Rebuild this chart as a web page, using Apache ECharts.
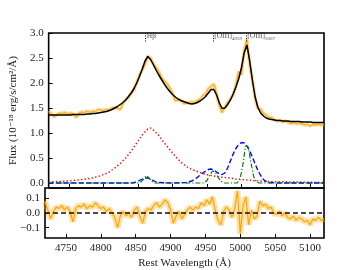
<!DOCTYPE html>
<html>
<head>
<meta charset="utf-8">
<script src="https://cdn.jsdelivr.net/npm/echarts@6/dist/echarts.min.js"></script>
<style>html,body{margin:0;padding:0;background:#fff}#c{width:360px;height:270px}</style>
</head>
<body>
<div id="c"></div>
<script>
// Wavelength grid (Å) for data, model and residuals
const wave = [4720,4724,4728,4732,4736,4740,4744,4748,4752,4756,4760,4764,4768,4772,4776,4780,4784,4788,4792,4796,
4800,4804,4808,4812,4816,4820,4824,4828,4832,4836,4840,4844,4848,4852,4856,4860,4864,4868,4872,4876,
4880,4884,4888,4892,4896,4900,4904,4908,4912,4916,4920,4924,4928,4932,4936,4940,4944,4948,4952,4956,
4960,4964,4968,4972,4976,4980,4984,4988,4992,4996,5000,5004,5008,5012,5016,5020,5024,5028,5032,5036,
5040,5044,5048,5052,5056,5060,5064,5068,5072,5076,5080,5084,5088,5092,5096,5100,5104,5108,5112,5116,5120];

// Observed flux (1e-18 erg/s/cm2/Å)
const fluxData = [1.44,1.38,1.32,1.37,1.40,1.39,1.41,1.38,1.40,1.38,1.31,1.40,1.42,1.41,1.44,1.41,1.44,1.43,1.47,1.46,
1.45,1.47,1.46,1.50,1.50,1.50,1.47,1.59,1.67,1.71,1.80,1.86,2.02,2.17,2.26,2.37,2.54,2.50,2.39,2.31,
2.23,2.11,2.04,1.99,1.90,1.79,1.65,1.66,1.66,1.59,1.60,1.61,1.62,1.61,1.65,1.67,1.75,1.78,1.89,1.93,
1.98,1.78,1.55,1.41,1.51,1.61,1.68,1.75,1.95,2.23,2.16,2.65,2.87,2.37,2.07,1.68,1.49,1.48,1.39,1.36,
1.31,1.31,1.26,1.24,1.26,1.22,1.24,1.21,1.19,1.21,1.18,1.20,1.18,1.16,1.17,1.14,1.17,1.16,1.18,1.16,1.17];

// Total model
const fluxModel = [1.36,1.36,1.36,1.36,1.36,1.36,1.36,1.36,1.36,1.37,1.37,1.37,1.37,1.37,1.38,1.38,1.39,1.39,1.40,1.41,
1.42,1.43,1.45,1.47,1.50,1.53,1.57,1.61,1.66,1.73,1.80,1.89,2.00,2.13,2.28,2.44,2.53,2.47,2.37,2.26,
2.16,2.07,1.98,1.90,1.83,1.77,1.72,1.68,1.65,1.63,1.61,1.59,1.58,1.59,1.61,1.64,1.68,1.73,1.80,1.87,
1.87,1.76,1.60,1.49,1.50,1.57,1.66,1.78,1.92,2.08,2.30,2.60,2.76,2.45,2.05,1.72,1.51,1.40,1.34,1.30,
1.28,1.27,1.26,1.25,1.25,1.24,1.24,1.24,1.23,1.23,1.23,1.23,1.22,1.22,1.22,1.22,1.21,1.21,1.21,1.21,1.21];

// Residuals (data - model)
const residual = [0.08,0.02,-0.04,0.01,0.04,0.03,0.05,0.02,0.04,0.01,-0.06,0.03,0.05,0.04,0.06,0.03,0.05,0.04,0.07,0.05,
0.03,0.04,0.01,0.03,0.00,-0.03,-0.10,-0.02,0.01,-0.02,0.00,-0.03,0.02,0.04,-0.02,-0.07,0.01,0.03,0.02,0.05,
0.07,0.04,0.06,0.09,0.07,0.02,-0.07,-0.02,0.01,-0.04,-0.01,0.02,0.04,0.02,0.04,0.03,0.07,0.05,0.09,0.06,
0.11,0.02,-0.05,-0.08,0.01,0.04,0.02,-0.03,0.03,0.15,-0.14,0.05,0.11,-0.08,0.02,-0.04,-0.02,0.08,0.05,0.06,
0.03,0.04,0.00,-0.01,0.01,-0.02,0.00,-0.03,-0.04,-0.02,-0.05,-0.03,-0.04,-0.06,-0.05,-0.08,-0.04,-0.05,-0.03,-0.05,-0.04];

// Broad Hβ component (red dotted)
const redWave = [4720,4740,4760,4780,4792,4800,4808,4816,4824,4832,4840,4848,4856,4864,4868,4872,4880,4888,4896,4904,
4912,4920,4928,4936,4944,4952,4960,4968,4976,4984,4992,5000,5010,5020,5040,5060,5080,5100,5120];
const redFlux = [0.02,0.035,0.055,0.09,0.13,0.17,0.22,0.30,0.39,0.50,0.64,0.80,0.96,1.08,1.10,1.06,0.95,0.80,0.67,0.53,
0.42,0.33,0.27,0.23,0.19,0.16,0.14,0.12,0.11,0.10,0.08,0.07,0.06,0.045,0.03,0.025,0.02,0.015,0.01];

// Broad/wing components (blue dashed)
const blueWave = [4720,4840,4848,4852,4856,4860,4864,4868,4872,4876,4880,4900,4920,4928,4934,4940,4946,4952,4956,4960,
4964,4968,4972,4976,4980,4984,4988,4992,4996,5000,5004,5008,5012,5016,5020,5024,5028,5032,5036,5040,5050,5120];
const blueFlux = [0,0,0.02,0.05,0.08,0.10,0.10,0.08,0.05,0.02,0.01,0,0.01,0.04,0.09,0.16,0.22,0.27,0.28,0.26,
0.22,0.18,0.17,0.20,0.30,0.44,0.58,0.69,0.77,0.81,0.80,0.74,0.64,0.52,0.38,0.25,0.15,0.07,0.03,0.01,0,0];

// Narrow components (green dash-dot)
const greenWave = [4720,4850,4854,4858,4862,4866,4870,4874,4946,4950,4954,4958,4962,4966,4970,4974,4994,4998,5002,5006,
5008,5010,5014,5018,5022,5026,5120];
const greenFlux = [0,0,0.02,0.08,0.15,0.10,0.03,0,0,0.05,0.16,0.24,0.22,0.12,0.04,0,0,0.08,0.35,0.74,
0.78,0.72,0.40,0.12,0.02,0,0];

// Line identifications
const lineWave = [4861, 4959, 5007];
const lineName = ['H\u03b2', '[OIII]', '[OIII]'];
const lineSub = ['', '4959', '5007'];

// Tick values
const xTicks = [4750,4800,4850,4900,4950,5000,5050,5100];
const yTicksTop = [0,0.5,1.0,1.5,2.0,2.5,3.0];
const yTicksBot = [-0.1,0,0.1];

const FONT = '"Liberation Serif", "DejaVu Serif", serif';
const pair = (xs, ys) => xs.map((x, i) => [x, ys[i]]);
const fmt = v => (v < 0 ? '\u2212' : '') + Math.abs(v).toFixed(1);

const tickStyle = (vals) => ({show: true, inside: true, length: 4, customValues: vals, lineStyle: {color: '#000', width: 1}});
const hiddenLine = {show: false, onZero: false};

const chart = echarts.init(document.getElementById('c'), null, {renderer: 'canvas'});
chart.setOption({
  animation: false,
  backgroundColor: '#fff',
  grid: [
    {left: 45, top: 33, width: 279, height: 155, show: true, borderColor: '#000', borderWidth: 1.6, backgroundColor: 'transparent'},
    {left: 45, top: 188, width: 279, height: 52, show: true, borderColor: '#000', borderWidth: 1.6, backgroundColor: 'transparent'}
  ],
  xAxis: [
    {type: 'value', gridIndex: 0, min: 4720, max: 5120, axisLine: hiddenLine,
     axisTick: tickStyle(xTicks), axisLabel: {show: false}, splitLine: {show: false}},
    {type: 'value', gridIndex: 1, min: 4720, max: 5120, axisLine: hiddenLine,
     axisTick: tickStyle(xTicks),
     axisLabel: {customValues: xTicks, fontFamily: FONT, fontSize: 11, color: '#222', margin: 5, formatter: v => String(v)},
     splitLine: {show: false},
     name: 'Rest Wavelength (\u00c5)', nameLocation: 'middle', nameGap: 20,
     nameTextStyle: {fontFamily: FONT, fontSize: 11, color: '#222'}}
  ],
  yAxis: [
    {type: 'value', gridIndex: 0, min: -0.1, max: 3.0, axisLine: hiddenLine,
     axisTick: tickStyle(yTicksTop),
     axisLabel: {customValues: yTicksTop, fontFamily: FONT, fontSize: 11, color: '#222', margin: 5, formatter: fmt},
     splitLine: {show: false},
     name: 'Flux (10\u207b\u00b9\u2078 erg/s/cm\u00b2/\u00c5)', nameLocation: 'middle', nameGap: 24, nameRotate: 90,
     nameTextStyle: {fontFamily: FONT, fontSize: 11, color: '#222'}},
    {type: 'value', gridIndex: 1, min: -0.17, max: 0.17, axisLine: hiddenLine,
     axisTick: tickStyle(yTicksBot),
     axisLabel: {customValues: yTicksBot, fontFamily: FONT, fontSize: 11, color: '#222', margin: 5, formatter: fmt},
     splitLine: {show: false}}
  ],
  series: [
    // data error band
    {type: 'line', xAxisIndex: 0, yAxisIndex: 0, data: pair(wave, fluxData), showSymbol: false, z: 1,
     lineStyle: {color: 'rgba(255,165,0,0.4)', width: 3.5}},
    {type: 'line', xAxisIndex: 0, yAxisIndex: 0, data: pair(wave, fluxData), showSymbol: false, z: 2,
     lineStyle: {color: '#ffa500', width: 1}},
    {type: 'line', xAxisIndex: 0, yAxisIndex: 0, data: pair(redWave, redFlux), showSymbol: false, z: 3,
     lineStyle: {color: '#ff0000', width: 1.4, type: [1.4, 2.2]}},
    {type: 'line', xAxisIndex: 0, yAxisIndex: 0, data: pair(blueWave, blueFlux), showSymbol: false, z: 4,
     lineStyle: {color: '#0000ff', width: 1.4, type: [5, 2.5]}},
    {type: 'line', xAxisIndex: 0, yAxisIndex: 0, data: pair(greenWave, greenFlux), showSymbol: false, z: 5,
     lineStyle: {color: '#008000', width: 1.2, type: [5, 2, 1.2, 2]}},
    {type: 'line', xAxisIndex: 0, yAxisIndex: 0, data: pair(wave, fluxModel), showSymbol: false, z: 6,
     lineStyle: {color: '#000', width: 1.5}},
    // line ids
    {type: 'scatter', xAxisIndex: 0, yAxisIndex: 0, symbolSize: 0, z: 7, silent: true,
     data: lineWave.map((w, i) => ({value: [w, 2.93], name: lineName[i]})),
     label: {show: true, position: 'right', distance: 1,
       formatter: p => lineSub[p.dataIndex] ? p.name + '{s|' + lineSub[p.dataIndex] + '}' : p.name,
       fontFamily: FONT, fontSize: 7.5, color: '#222',
       rich: {s: {fontFamily: FONT, fontSize: 5, color: '#222', padding: [5, 0, 0, 0]}}},
     markLine: {silent: true, symbol: ['none', 'none'], label: {show: false},
       lineStyle: {color: '#000', width: 1, type: [1, 1.5]},
       data: lineWave.map(w => [{coord: [w, 3.0]}, {coord: [w, 2.8]}])}},
    // residuals
    {type: 'line', xAxisIndex: 1, yAxisIndex: 1, data: pair(wave, residual), showSymbol: false, z: 1,
     lineStyle: {color: 'rgba(255,165,0,0.33)', width: 6}},
    {type: 'line', xAxisIndex: 1, yAxisIndex: 1, data: pair(wave, residual), showSymbol: false, z: 2,
     lineStyle: {color: '#ffa500', width: 1.2}},
    {type: 'line', xAxisIndex: 1, yAxisIndex: 1, data: [[4720, 0], [5120, 0]], showSymbol: false, z: 3,
     lineStyle: {color: '#111', width: 1.5, type: [5, 3]}}
  ]
});
</script>
</body>
</html>
